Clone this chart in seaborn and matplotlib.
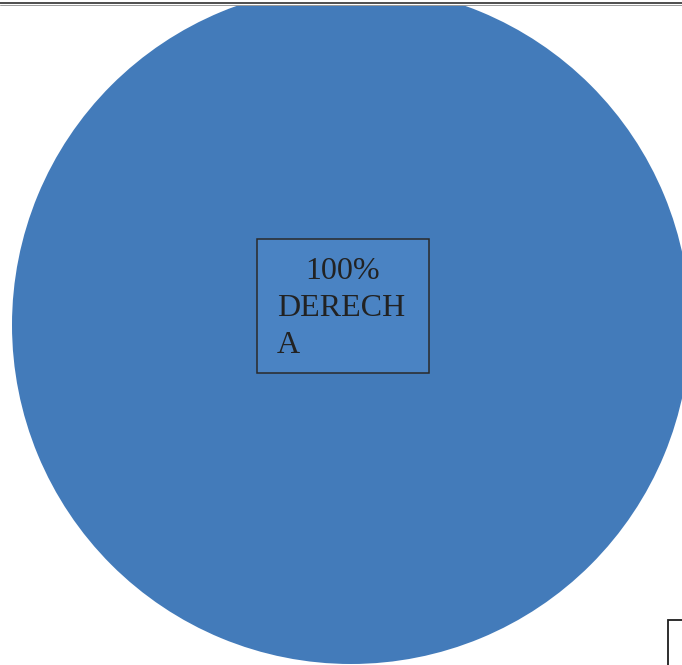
import matplotlib
matplotlib.use("Agg")
import matplotlib.pyplot as plt
from matplotlib.patches import Rectangle
from matplotlib.lines import Line2D
import seaborn as sns

# Data
categories = ["DERECHA"]
shares = [100]

sns.set_theme(style="white")
plt.rcParams["font.family"] = ["Liberation Serif", "DejaVu Serif"]

W, H = 682, 665
TOP = 4.6  # pie area starts just below the top rule
fig = plt.figure(figsize=(W / 100, H / 100), dpi=100)
fig.patch.set_facecolor("white")
ax = fig.add_axes([0, 0, 1, (H - TOP) / H])

pie_color = "#437bba"
wedges, _ = ax.pie(shares, colors=[pie_color], center=(351, 325), radius=339,
                   startangle=90, counterclock=False, frame=True,
                   wedgeprops=dict(linewidth=0))
for w in wedges:
    w.set_clip_on(True)
ax.set_xlim(0, W)
ax.set_ylim(H, TOP)
ax.set_axis_off()

# top rule (figure pixel coordinates)
px = lambda y: 1 - y / H
fig.add_artist(Line2D([0, 1], [px(3.4), px(3.4)], color="#1e1e1e", lw=1.1,
                      transform=fig.transFigure))
fig.add_artist(Line2D([0, 1], [px(4.6), px(4.6)], color="#9a9a9a", lw=0.7,
                      transform=fig.transFigure))

# data label box
ax.add_patch(Rectangle((256.5, 238.5), 172, 134.5, facecolor="#4a83c3",
                       edgecolor="#2a2a2a", lw=1.1, zorder=3))
pct_text = f"{shares[0]:.0f}%"
name = categories[0]
ax.text(342.5, 279, pct_text, ha="center", va="baseline", fontsize=23,
        color="#222222", zorder=4)
ax.text(277, 315.5, name[:6], ha="left", va="baseline",
        fontsize=23, color="#222222", zorder=4)
ax.text(277, 352.5, name[6:], ha="left", va="baseline",
        fontsize=23, color="#222222", zorder=4)

# corner of neighbouring frame
ax.plot([682, 668, 668], [619.5, 619.5, 665], color="#1e1e1e", lw=1.3,
        solid_joinstyle="miter")

fig.savefig("out.png", dpi=100, facecolor="white")
